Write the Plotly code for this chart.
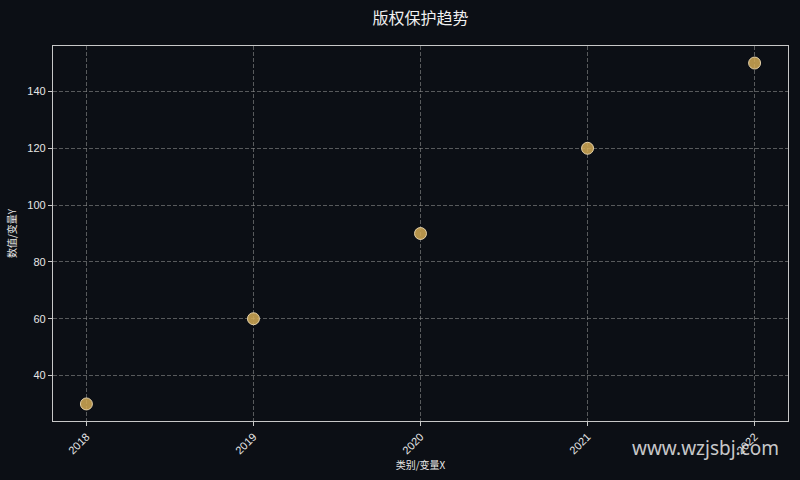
import plotly.graph_objects as go

# 数据
years = [2018, 2019, 2020, 2021, 2022]
values = [30, 60, 90, 120, 150]
tick_labels = ['2018', '2019', '2020', '2021', '2022']

bg = '#0c0f15'
font_cjk = 'Noto Sans CJK SC, DejaVu Sans, sans-serif'
font_tick = 'Liberation Sans, Arial, sans-serif'

fig = go.Figure()

fig.add_trace(
    go.Scatter(
        x=years,
        y=values,
        mode='markers',
        marker=dict(
            size=12,
            color='rgba(212,170,85,0.85)',
            line=dict(width=1, color='rgba(240,220,180,0.9)')
        ),
        showlegend=False
    )
)

axis_common = dict(
    showline=True,
    mirror=True,
    linecolor='#c8c8c8',
    linewidth=1.2,
    ticks='outside',
    ticklen=4,
    tickcolor='#c8c8c8',
    showgrid=True,
    gridcolor='rgba(140,140,140,0.6)',
    griddash='4px,2px',
    gridwidth=0.8,
    zeroline=False,
    tickfont=dict(size=11, color='#e6e6e6', family=font_tick),
)

fig.update_xaxes(
    axis_common,
    range=[2017.8, 2022.2],
    tickvals=years,
    ticktext=tick_labels,
    tickangle=-45,
    title=dict(text='类别/变量X', font=dict(size=10, color='#e6e6e6', family=font_cjk), standoff=6),
)
fig.update_yaxes(
    axis_common,
    range=[24, 156],
    tickvals=[40, 60, 80, 100, 120, 140],
    title=dict(text='数值/变量Y', font=dict(size=10, color='#e6e6e6', family=font_cjk), standoff=8),
)

fig.update_layout(
    width=800,
    height=480,
    paper_bgcolor=bg,
    plot_bgcolor=bg,
    margin=dict(l=53, r=12, t=46, b=59),
    title=dict(
        text='版权保护趋势',
        x=(53 + 788) / 2 / 800,
        xanchor='center',
        y=1 - 18 / 480,
        yanchor='middle',
        font=dict(size=16, color='#f0f0f0', family=font_cjk),
    ),
    annotations=[
        dict(
            text='www.wzjsbj.com',
            xref='paper', yref='paper',
            x=0.99, y=-0.072,
            xanchor='right', yanchor='middle',
            showarrow=False,
            font=dict(size=19, color='rgba(235,235,235,0.85)', family='Noto Sans, DejaVu Sans, sans-serif'),
        )
    ],
)

fig.write_html(
    "out.html",
    config={'displayModeBar': False},
    post_script="document.body.style.margin='0';document.body.style.background='#0c0f15';",
)
